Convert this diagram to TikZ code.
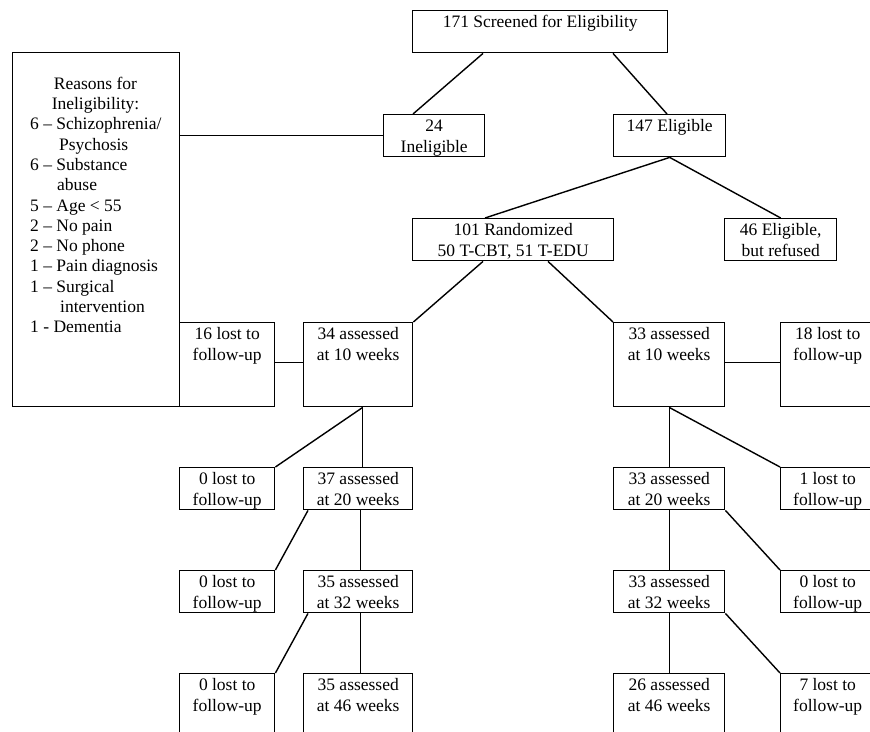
\documentclass[tikz,border=0pt]{standalone}
\usepackage{fontspec}
\setmainfont{Liberation Serif}
\begin{document}
\begin{tikzpicture}[x=1pt,y=-1pt,
  box/.style={draw, rectangle, line width=1.4pt, inner sep=0pt, anchor=north west},
  txt/.style={align=center, inner sep=0pt, anchor=north, font=\fontsize{17.5}{20.3}\selectfont},
  link/.style={line width=1.4pt}]
\fill[white] (0,0) rectangle (870,731);
\useasboundingbox (0,0) rectangle (870,731);
\newcommand\mybox[6]{%
  \node[box, minimum width={(#4-#2)*1pt}, minimum height={(#5-#3)*1pt}] (#1) at (#2,#3) {};
  \node[txt] (#1-t) at ([yshift=-3.5pt]#1.north) {\strut #6};}
% top
\mybox{scr}{412}{10}{667}{52}{171 Screened for Eligibility}
\mybox{inel}{383}{114}{484}{156}{24\\Ineligible}
\mybox{elig}{613}{114}{725}{156}{147 Eligible}
\mybox{rand}{412}{218}{613}{260}{101 Randomized\\50 T-CBT, 51 T-EDU}
\mybox{refu}{724}{218}{836}{260}{46 Eligible,\\but refused}
% reasons
\node[box, minimum width=167pt, minimum height=354pt] (reasons) at (12,52) {};
\node[txt] (reasons-h) at (95.5,74.8) {\strut Reasons for\\Ineligibility:};
\node[txt, align=left, anchor=north west] (reasons-l) at (30,115.4) {\strut 6 – Schizophrenia/\\
\hspace*{29pt}Psychosis\\
6 – Substance\\
\hspace*{27pt}abuse\\
5 – Age < 55\\
2 – No pain\\
2 – No phone\\
1 – Pain diagnosis\\
1 – Surgical\\
\hspace*{30pt}intervention\\
1 - Dementia};
% left arm
\mybox{lostL}{179}{322}{274}{406}{16 lost to\\follow-up}
\mybox{aL10}{303}{322}{412}{406}{34 assessed\\at 10 weeks}
\mybox{lL20}{179}{467}{274}{509}{0 lost to\\follow-up}
\mybox{aL20}{303}{467}{412}{509}{37 assessed\\at 20 weeks}
\mybox{lL32}{179}{570}{274}{612}{0 lost to\\follow-up}
\mybox{aL32}{303}{570}{412}{612}{35 assessed\\at 32 weeks}
\mybox{lL46}{179}{673}{274}{760}{0 lost to\\follow-up}
\mybox{aL46}{303}{673}{412}{760}{35 assessed\\at 46 weeks}
% right arm
\mybox{aR10}{613}{322}{724}{406}{33 assessed\\at 10 weeks}
\mybox{lostR}{780}{322}{874}{406}{18 lost to\\follow-up}
\mybox{aR20}{613}{467}{724}{509}{33 assessed\\at 20 weeks}
\mybox{lR20}{780}{467}{874}{509}{1 lost to\\follow-up}
\mybox{aR32}{613}{570}{724}{612}{33 assessed\\at 32 weeks}
\mybox{lR32}{780}{570}{874}{612}{0 lost to\\follow-up}
\mybox{aR46}{613}{673}{724}{760}{26 assessed\\at 46 weeks}
\mybox{lR46}{780}{673}{874}{760}{7 lost to\\follow-up}
% connectors
\draw[link] ([xshift=71pt]scr.south west) -- ([xshift=30pt]inel.north west);
\draw[link] ([xshift=201pt]scr.south west) -- ([xshift=54pt]elig.north west);
\draw[link] (inel.west) -- (inel.west -| reasons.east);
\draw[link] (elig.south) -- ([xshift=73pt]rand.north west);
\draw[link] (elig.south) -- (refu.north);
\draw[link] ([xshift=71pt]rand.south west) -- (aL10.north east);
\draw[link] ([xshift=136pt]rand.south west) -- (aR10.north west);
\draw[link] ([yshift=2pt]lostL.east) -- ([yshift=2pt]aL10.west);
\draw[link] ([xshift=4.5pt]aL10.south) -- ([xshift=4.5pt]aL20.north);
\draw[link] ([xshift=4.5pt]aL10.south) -- (lL20.north east);
\draw[link] ([xshift=5pt]aL20.south west) -- (lL32.north east);
\draw[link] ([xshift=2.5pt]aL20.south) -- ([xshift=2.5pt]aL32.north);
\draw[link] ([xshift=5pt]aL32.south west) -- (lL46.north east);
\draw[link] ([xshift=2.5pt]aL32.south) -- ([xshift=2.5pt]aL46.north);
\draw[link] ([yshift=2pt]aR10.east) -- ([yshift=2pt]lostR.west);
\draw[link] (aR10.south) -- (aR20.north);
\draw[link] (aR10.south) -- (lR20.north west);
\draw[link] (aR20.south) -- (aR32.north);
\draw[link] (aR20.south east) -- (lR32.north west);
\draw[link] (aR32.south) -- (aR46.north);
\draw[link] (aR32.south east) -- (lR46.north west);
\end{tikzpicture}
\end{document}
